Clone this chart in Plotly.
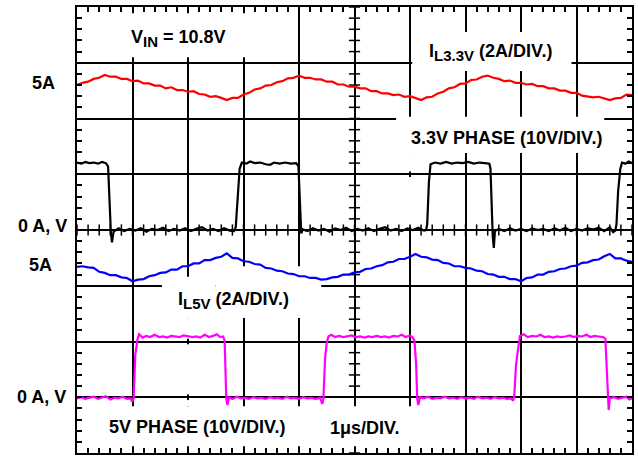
import plotly.graph_objects as go
import numpy as np

# time axis in microseconds (1 us/div, 10 div); vertical axis in screen divisions (8 div)
T_RED = [round(0.1 * i, 1) for i in range(101)]
IL33_DIV = [6.60, 6.64, 6.66, 6.71, 6.73, 6.78, 6.75, 6.75, 6.71, 6.71,
            6.67, 6.68, 6.63, 6.63, 6.59, 6.59, 6.54, 6.56, 6.51, 6.51,
            6.48, 6.49, 6.44, 6.43, 6.39, 6.40, 6.37, 6.33, 6.37, 6.37,
            6.43, 6.46, 6.52, 6.54, 6.59, 6.60, 6.65, 6.67, 6.72, 6.73,
            6.77, 6.73, 6.73, 6.70, 6.70, 6.66, 6.66, 6.61, 6.61, 6.57,
            6.57, 6.54, 6.54, 6.49, 6.49, 6.45, 6.45, 6.42, 6.43, 6.39,
            6.40, 6.36, 6.33, 6.38, 6.39, 6.45, 6.48, 6.54, 6.56, 6.62,
            6.63, 6.69, 6.70, 6.75, 6.77, 6.73, 6.71, 6.67, 6.68, 6.64,
            6.64, 6.61, 6.62, 6.58, 6.58, 6.54, 6.54, 6.50, 6.50, 6.46,
            6.46, 6.41, 6.40, 6.38, 6.39, 6.36, 6.33, 6.36, 6.37, 6.43, 6.42]

T_BLUE = T_RED
IL5_DIV = [3.34, 3.35, 3.33, 3.32, 3.25, 3.23, 3.19, 3.19, 3.15, 3.14,
           3.08, 3.11, 3.12, 3.17, 3.19, 3.23, 3.24, 3.29, 3.29, 3.35,
           3.35, 3.40, 3.40, 3.46, 3.46, 3.50, 3.52, 3.58, 3.50, 3.49,
           3.44, 3.43, 3.39, 3.38, 3.32, 3.31, 3.27, 3.26, 3.22, 3.21,
           3.17, 3.17, 3.14, 3.14, 3.11, 3.12, 3.15, 3.16, 3.20, 3.20,
           3.24, 3.25, 3.30, 3.31, 3.35, 3.37, 3.42, 3.43, 3.48, 3.48,
           3.52, 3.57, 3.52, 3.51, 3.47, 3.46, 3.41, 3.40, 3.35, 3.35,
           3.32, 3.31, 3.27, 3.26, 3.21, 3.20, 3.16, 3.16, 3.12, 3.12,
           3.08, 3.14, 3.15, 3.20, 3.20, 3.25, 3.26, 3.30, 3.31, 3.35,
           3.36, 3.41, 3.42, 3.46, 3.47, 3.53, 3.57, 3.49, 3.49, 3.45, 3.43]

T_PH33 = [0.00, 0.08, 0.15, 0.22, 0.30, 0.38, 0.45, 0.52, 0.56, 0.58, 0.61, 0.63, 0.66,
          0.75, 0.85, 0.95, 1.05, 1.15, 1.25, 1.35, 1.45, 1.55, 1.65, 1.75, 1.85, 1.95,
          2.05, 2.15, 2.25, 2.35, 2.45, 2.55, 2.65, 2.75, 2.83, 2.86, 2.90, 2.93, 2.97,
          3.05, 3.12, 3.20, 3.30, 3.40, 3.48, 3.55, 3.65, 3.75, 3.85, 3.95, 3.99, 4.02,
          4.04, 4.07, 4.15, 4.25, 4.35, 4.45, 4.55, 4.65, 4.75, 4.85, 4.95, 5.05, 5.15,
          5.25, 5.35, 5.45, 5.55, 5.65, 5.75, 5.85, 5.95, 6.05, 6.15, 6.25, 6.29, 6.31,
          6.34, 6.37, 6.45, 6.55, 6.65, 6.75, 6.85, 6.95, 7.05, 7.15, 7.25, 7.35, 7.43,
          7.45, 7.47, 7.49, 7.51, 7.53, 7.60, 7.70, 7.80, 7.90, 8.00, 8.10, 8.20, 8.30,
          8.40, 8.50, 8.60, 8.70, 8.80, 8.90, 9.00, 9.10, 9.20, 9.30, 9.40, 9.50, 9.60,
          9.66, 9.70, 9.72, 9.75, 9.79, 9.82, 9.88, 9.94, 10.00]
PH33_DIV = [5.21, 5.19, 5.22, 5.20, 5.21, 5.19, 5.22, 5.20, 5.14, 4.60, 3.96, 3.78, 3.97,
            4.03, 3.98, 4.02, 3.99, 4.03, 3.97, 4.02, 4.00, 4.04, 3.98, 4.02, 3.99, 4.03,
            3.98, 4.02, 4.05, 3.99, 4.02, 3.98, 4.03, 3.99, 3.98, 4.05, 4.72, 5.10, 5.21,
            5.19, 5.23, 5.20, 5.21, 5.18, 5.17, 5.21, 5.19, 5.21, 5.19, 5.20, 5.14, 4.40,
            3.94, 4.01, 3.98, 4.03, 3.99, 4.02, 3.97, 4.03, 4.00, 4.04, 3.98, 4.02, 3.99,
            4.03, 3.98, 4.02, 4.05, 3.99, 4.02, 3.98, 4.03, 4.00, 4.04, 3.99, 4.00, 4.10,
            4.85, 5.18, 5.21, 5.19, 5.22, 5.19, 5.21, 5.20, 5.22, 5.19, 5.21, 5.20, 5.19,
            5.10, 4.40, 3.90, 3.68, 3.98, 4.02, 3.98, 4.03, 3.99, 4.02, 3.98, 4.03, 4.00,
            4.02, 3.98, 4.03, 3.99, 4.04, 3.98, 4.02, 3.99, 4.03, 4.01, 4.04, 3.98, 4.05,
            3.96, 3.99, 4.10, 4.70, 5.10, 5.21, 5.19, 5.23, 5.20]

T_PH5 = [0.00, 0.08, 0.15, 0.22, 0.30, 0.38, 0.45, 0.52, 0.60, 0.68, 0.75, 0.82, 0.90,
         0.97, 0.99, 1.02, 1.05, 1.09, 1.12, 1.18, 1.25, 1.32, 1.40, 1.48, 1.55, 1.62,
         1.70, 1.78, 1.85, 1.92, 2.00, 2.08, 2.15, 2.22, 2.30, 2.38, 2.45, 2.52, 2.58,
         2.63, 2.66, 2.69, 2.71, 2.74, 2.80, 2.88, 2.95, 3.02, 3.10, 3.18, 3.25, 3.32,
         3.40, 3.48, 3.55, 3.62, 3.70, 3.78, 3.85, 3.92, 4.00, 4.08, 4.15, 4.22, 4.30,
         4.38, 4.42, 4.44, 4.47, 4.50, 4.53, 4.58, 4.65, 4.72, 4.80, 4.88, 4.95, 5.02,
         5.10, 5.18, 5.25, 5.32, 5.40, 5.48, 5.55, 5.62, 5.70, 5.78, 5.85, 5.92, 6.00,
         6.04, 6.08, 6.11, 6.13, 6.15, 6.18, 6.25, 6.32, 6.40, 6.48, 6.55, 6.62, 6.70,
         6.78, 6.85, 6.92, 7.00, 7.08, 7.15, 7.22, 7.30, 7.38, 7.45, 7.52, 7.60, 7.68,
         7.75, 7.82, 7.86, 7.88, 7.91, 7.95, 7.98, 8.05, 8.12, 8.20, 8.28, 8.35, 8.42,
         8.50, 8.58, 8.65, 8.72, 8.80, 8.88, 8.95, 9.02, 9.10, 9.18, 9.25, 9.32, 9.40,
         9.48, 9.52, 9.55, 9.57, 9.58, 9.60, 9.68, 9.75, 9.82, 9.90, 9.95, 10.00]
PH5_DIV = [0.98, 1.00, 0.97, 0.99, 1.01, 0.97, 0.99, 1.02, 0.96, 0.99, 0.98, 1.01, 0.97,
           0.98, 0.92, 0.98, 1.76, 2.04, 2.13, 2.07, 2.10, 2.08, 2.12, 2.08, 2.09, 2.07,
           2.10, 2.09, 2.08, 2.11, 2.09, 2.08, 2.09, 2.07, 2.12, 2.08, 2.10, 2.13, 2.08,
           2.09, 2.02, 0.98, 0.86, 1.00, 0.97, 1.01, 0.98, 0.99, 0.97, 1.00, 0.98, 0.99,
           0.97, 1.00, 0.98, 0.99, 0.97, 1.01, 0.98, 0.99, 0.97, 1.00, 0.98, 0.99, 0.97,
           0.99, 0.88, 0.98, 1.70, 1.98, 2.09, 2.12, 2.08, 2.10, 2.08, 2.09, 2.11, 2.08,
           2.09, 2.07, 2.09, 2.08, 2.10, 2.08, 2.09, 2.07, 2.10, 2.09, 2.12, 2.08, 2.11,
           2.08, 2.02, 1.60, 0.98, 0.86, 1.00, 0.98, 1.01, 0.97, 0.99, 0.98, 1.01, 0.98,
           0.99, 0.97, 1.00, 0.98, 0.99, 0.97, 1.01, 0.98, 0.99, 0.97, 1.00, 0.98, 0.99,
           0.97, 0.98, 0.94, 1.05, 1.58, 1.90, 2.10, 2.13, 2.08, 2.10, 2.09, 2.12, 2.08,
           2.09, 2.07, 2.09, 2.08, 2.09, 2.11, 2.08, 2.10, 2.09, 2.12, 2.08, 2.10, 2.09,
           2.08, 2.05, 1.50, 0.98, 0.77, 0.98, 1.00, 0.97, 0.99, 1.01, 0.96, 0.98]

X_DIVS = 10
Y_DIVS = 8
MINOR = 0.2

FONT = "Liberation Sans, Arial, sans-serif"

fig = go.Figure()

# centre-axis tick marks (scope graticule)
cx = np.arange(0, X_DIVS + 1e-9, MINOR)
cy = np.arange(0, Y_DIVS + 1e-9, MINOR)
fig.add_trace(go.Scatter(x=cx, y=[Y_DIVS / 2] * len(cx), mode="markers", hoverinfo="skip",
                         marker=dict(symbol="line-ns", size=8, line=dict(width=1.5, color="black")),
                         showlegend=False))
fig.add_trace(go.Scatter(x=[X_DIVS / 2] * len(cy), y=cy, mode="markers", hoverinfo="skip",
                         marker=dict(symbol="line-ew", size=8, line=dict(width=1.5, color="black")),
                         showlegend=False))

fig.add_trace(go.Scatter(x=T_RED, y=IL33_DIV, mode="lines", line=dict(color="#ff0000", width=2.2),
                         showlegend=False))
fig.add_trace(go.Scatter(x=T_PH33, y=PH33_DIV, mode="lines", line=dict(color="#000000", width=2.2),
                         showlegend=False))
fig.add_trace(go.Scatter(x=T_BLUE, y=IL5_DIV, mode="lines", line=dict(color="#0000ff", width=2.2),
                         showlegend=False))
fig.add_trace(go.Scatter(x=T_PH5, y=PH5_DIV, mode="lines", line=dict(color="#ff00ff", width=2.2),
                         showlegend=False))

# white label boxes / erased graticule segments (x0, x1, y0, y1) in screen units
boxes_between = [
    (0.15, 3.87, 7.10, 7.89),
    (6.04, 8.91, 6.85, 7.55),
    (5.75, 9.50, 5.38, 6.03),
    (1.53, 2.50, 2.42, 3.16),
    (2.50, 4.40, 2.42, 3.35),
    (5.96, 6.04, 4.06, 4.95),
    (5.96, 6.04, 5.05, 5.38),
    (1.96, 2.04, 2.05, 2.42),
    (1.96, 2.04, 1.05, 1.95),
    (1.96, 2.04, 0.84, 0.95),
]
for x0, x1, y0, y1 in boxes_between:
    fig.add_shape(type="rect", x0=x0, x1=x1, y0=y0, y1=y1, xref="x", yref="y",
                  fillcolor="white", line=dict(width=0), layer="between")
fig.add_shape(type="rect", x0=0.30, x1=6.50, y0=0.12, y1=0.84, xref="x", yref="y",
              fillcolor="white", line=dict(width=0), layer="above")

def label(text, x, y, xanchor="left", xref="x"):
    fig.add_annotation(x=x, y=y, xref=xref, yref="y", text="<b>" + text + "</b>",
                       showarrow=False, xanchor=xanchor, yanchor="middle", borderpad=0,
                       font=dict(family=FONT, size=18, color="black"))

SUB = '<sub><span style="font-size:15px">{}</span></sub>'
label("V" + SUB.format("IN") + " = 10.8V", 0.96, 7.43)
label("I" + SUB.format("L3.3V") + " (2A/DIV.)", 6.33, 7.18)
label("3.3V PHASE (10V/DIV.)", 6.00, 5.65)
label("I" + SUB.format("L5V") + " (2A/DIV.)", 1.80, 2.73)
label("5V PHASE (10V/DIV.)", 0.56, 0.47)
label("1\u03bcs/DIV.", 4.54, 0.45)

# scale markers left of the graticule (paper x, screen-division y)
label("5A", -0.038, 6.64, "right", "paper")
label("0 A, V", -0.016, 4.08, "right", "paper")
label("5A", -0.044, 3.37, "right", "paper")
label("0 A, V", -0.018, 1.00, "right", "paper")

axis_common = dict(showticklabels=False, showline=True, linecolor="black", linewidth=2,
                   mirror="ticks", showgrid=True, gridcolor="black", gridwidth=1.6,
                   zeroline=False, ticks="inside", ticklen=5, tickwidth=1.5, tickcolor="black",
                   minor=dict(ticks="inside", ticklen=5, tickwidth=1.5, tickcolor="black",
                              dtick=MINOR, showgrid=False))
fig.update_xaxes(range=[0, X_DIVS], dtick=1, tick0=0, **axis_common)
fig.update_yaxes(range=[0, Y_DIVS], dtick=1, tick0=0, **axis_common)

fig.update_layout(width=638, height=457, margin=dict(l=77, r=4, t=7, b=4),
                  paper_bgcolor="white", plot_bgcolor="white",
                  font=dict(family=FONT))

fig.write_html("out.html", config={"displayModeBar": False},
               post_script="document.body.style.margin='0px';")
